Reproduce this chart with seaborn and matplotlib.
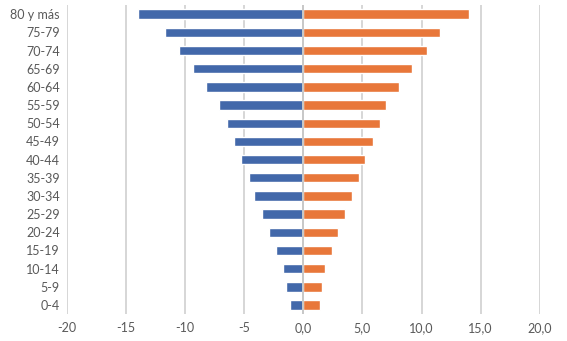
import matplotlib
matplotlib.use("Agg")
import matplotlib.pyplot as plt
import seaborn as sns
import pandas as pd

# age groups, top to bottom
grupos = ["80 y más", "75-79", "70-74", "65-69", "60-64", "55-59", "50-54",
          "45-49", "40-44", "35-39", "30-34", "25-29", "20-24", "15-19",
          "10-14", "5-9", "0-4"]
izquierda = [-14.0, -11.7, -10.5, -9.3, -8.2, -7.1, -6.5, -5.9, -5.3,
             -4.6, -4.2, -3.5, -2.9, -2.3, -1.7, -1.5, -1.1]
derecha = [14.0, 11.6, 10.5, 9.2, 8.1, 7.0, 6.5, 5.9, 5.2,
           4.7, 4.1, 3.5, 2.9, 2.4, 1.8, 1.6, 1.4]
ticks = [-20, -15, -10, -5, 0, 5, 10, 15, 20]
tick_labels = ["-20", "-15", "-10", "-5", "0,0", "5,0", "10,0", "15,0", "20,0"]

df = pd.DataFrame({"grupo": grupos, "izq": izquierda, "der": derecha})

sns.set_style("white")
plt.rcParams["font.family"] = ["Lato", "DejaVu Sans"]

fig = plt.figure(figsize=(5.67, 3.41), dpi=100)
ax = fig.add_axes([0.118, 0.079, 0.834, 0.906])

ax.set_xlim(-20, 20)
ax.set_xticks(ticks)
ax.grid(axis="x", color="#D0D0D0", linewidth=1.2, zorder=0)
ax.set_axisbelow(True)

sns.barplot(data=df, x="izq", y="grupo", order=grupos, color="#4268AA",
            width=0.52, saturation=1, ax=ax, zorder=2)
sns.barplot(data=df, x="der", y="grupo", order=grupos, color="#E8773A",
            width=0.52, saturation=1, ax=ax, zorder=2)
# zero line sits over the bars
ax.axvline(0, color="#C8C8C8", linewidth=1.4, zorder=3)

ax.set_xticklabels(tick_labels)
ax.set_xlabel("")
ax.set_ylabel("")
ax.tick_params(axis="both", length=0, labelsize=9, colors="#595959")
ax.tick_params(axis="y", pad=5)
ax.tick_params(axis="x", pad=6)
for s in ax.spines.values():
    s.set_visible(False)

fig.savefig("out.png", dpi=100)
